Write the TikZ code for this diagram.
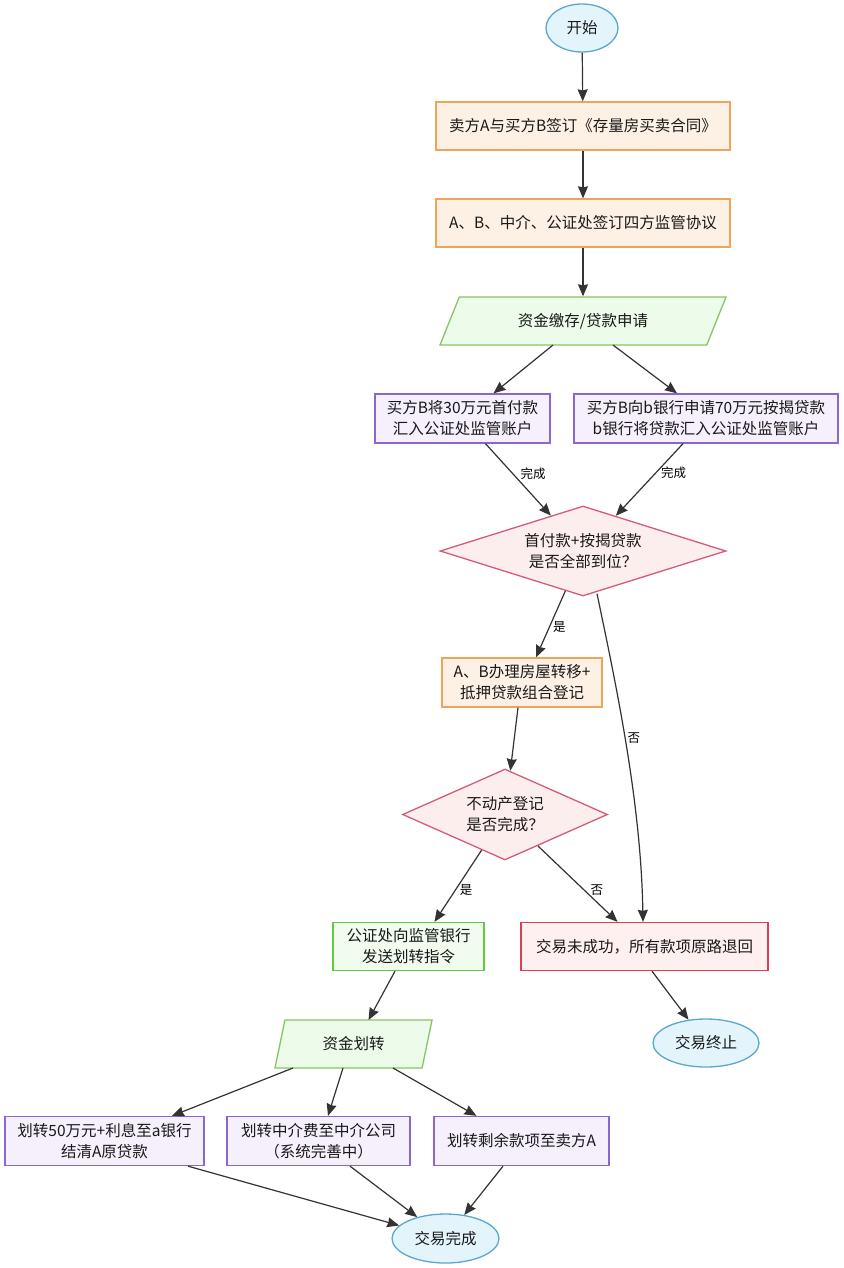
\documentclass[tikz,border=0pt]{standalone}
\usepackage{fontspec}
\setmainfont{Noto Sans CJK SC}
\usetikzlibrary{shapes.geometric,arrows.meta,calc}
\definecolor{termF}{HTML}{E3F4FA}
\definecolor{termD}{HTML}{5BA8CF}
\definecolor{orF}{HTML}{FDF1E6}
\definecolor{orD}{HTML}{F0A458}
\definecolor{grF}{HTML}{EDFBEA}
\definecolor{grD}{HTML}{86C662}
\definecolor{gbF}{HTML}{F1FCEE}
\definecolor{gbD}{HTML}{5ECC3C}
\definecolor{puF}{HTML}{F6EFFC}
\definecolor{puD}{HTML}{8B66D1}
\definecolor{diF}{HTML}{FCEEEC}
\definecolor{diD}{HTML}{D45C7A}
\definecolor{faF}{HTML}{FDF0EF}
\definecolor{faD}{HTML}{DA4150}
\definecolor{arrC}{HTML}{333333}
\begin{document}
\begin{tikzpicture}[x=1pt,y=-1pt,
  base/.style={draw, line width=1.3pt, inner sep=0pt, align=center,
    font=\fontsize{15.5}{21}\selectfont, text=black!90},
  term/.style={base, ellipse, draw=termD, fill=termF},
  orbox/.style={base, rectangle, draw=orD, fill=orF, minimum height=48pt},
  pubox/.style={base, rectangle, draw=puD, fill=puF, minimum height=49pt},
  grbox/.style={base, rectangle, draw=gbD, fill=gbF, minimum height=48pt},
  fabox/.style={base, rectangle, draw=faD, fill=faF, minimum height=48pt},
  para/.style={base, trapezium, draw=grD, fill=grF, trapezium stretches body, minimum height=48pt},
  decide/.style={base, diamond, draw=diD, fill=diF},
  arr/.style={draw=arrC, line width=1.2pt, -{Stealth[length=12pt,width=10pt,inset=1pt]}},
  lbl/.style={font=\fontsize{12.5}{12.5}\selectfont, inner sep=0pt, text=black}
]
\useasboundingbox[fill=white] (0,0) rectangle (843,1268);

\node[term, minimum width=72pt, minimum height=48pt] (S) at (582,28) {开始};
\node[orbox, minimum width=294pt] (A1) at (583,126) {卖方A与买方B签订《存量房买卖合同》};
\node[orbox, minimum width=294pt] (A2) at (583,223) {A、B、中介、公证处签订四方监管协议};
\node[para, trapezium left angle=39.6, trapezium right angle=140.4, minimum width=286pt] (P1) at (583,321) {资金缴存/贷款申请};
\node[pubox, minimum width=175pt] (B1) at (462.5,418.5) {买方B将30万元首付款\\汇入公证处监管账户};
\node[pubox, minimum width=264pt] (B2) at (706,418.5) {买方B向b银行申请70万元按揭贷款\\b银行将贷款汇入公证处监管账户};
\node[decide, aspect=3.18, minimum width=286pt, minimum height=90pt] (D1) at (583,551) {首付款+按揭贷款\\是否全部到位？};
\node[orbox, minimum width=160pt, minimum height=49pt] (M) at (522,682.5) {A、B办理房屋转移+\\抵押贷款组合登记};
\node[decide, aspect=2.25, minimum width=205pt, minimum height=91pt] (D2) at (505,814.5) {不动产登记\\是否完成？};
\node[grbox, minimum width=151pt] (G) at (408.5,946.5) {公证处向监管银行\\发送划转指令};
\node[fabox, minimum width=247pt] (F) at (644.5,946.5) {交易未成功，所有款项原路退回};
\node[para, trapezium left angle=55.5, trapezium right angle=124.5, minimum width=157pt] (P2) at (353.5,1044) {资金划转};
\node[term, minimum width=106pt, minimum height=48pt] (T) at (706,1043) {交易终止};
\node[pubox, minimum width=199pt] (C1) at (104.5,1141) {划转50万元+利息至a银行\\结清A原贷款};
\node[pubox, minimum width=183pt] (C2) at (318.5,1141) {划转中介费至中介公司\\（系统完善中）};
\node[pubox, minimum width=175pt] (C3) at (521.5,1141) {划转剩余款项至卖方A};
\node[term, minimum width=107pt, minimum height=49pt] (E) at (445.5,1238.5) {交易完成};

\draw[arr] (S) -- (A1);
\draw[arr] (A1) -- (A2);
\draw[arr] (A2) -- (P1);
\draw[arr] ($(P1.center)+(-30,24)$) -- ($(B1.north)+(31,0)$);
\draw[arr] ($(P1.center)+(30,24)$) -- ($(B2.north)+(-29,0)$);
\draw[arr] ($(B1.south)+(23,0)$) -- node[lbl, pos=0.42, right=7pt] (L1) {完成} (D1);
\draw[arr] ($(B2.south)+(-23,0)$) -- node[lbl, pos=0.41, right=5pt] (L2) {完成} (D1);
\draw[arr] (D1) -- node[lbl, pos=0.54, right=3pt] (L3) {是} ($(M.north)+(14,0)$);
\draw[arr] ($(D1.south)+(14,-3)$) .. controls (615,680) and (641,800) .. node[lbl, pos=0.48, right=2pt] (L4) {否} ($(F.north)+(-1.5,0)$);
\draw[arr] ($(M.south)+(-4,0)$) -- (D2);
\draw[arr] (D2) -- node[lbl, pos=0.56, right=4pt] (L5) {是} ($(G.north)+(26,0)$);
\draw[arr] (D2) -- node[lbl, pos=0.58, right=6pt] (L6) {否} ($(F.north)+(-27,0)$);
\draw[arr] ($(F.south)+(7.5,0)$) -- (T);
\draw[arr] ($(G.south)+(-13.5,0)$) -- ($(P2.center)+(15,-24)$);
\draw[arr] ($(P2.center)+(-60.5,24)$) -- ($(C1.north)+(67.5,0)$);
\draw[arr] ($(P2.center)+(-10.5,24)$) -- ($(C2.north)+(9.5,0)$);
\draw[arr] ($(P2.center)+(39.5,24)$) -- ($(C3.north)+(-45,0)$);
\draw[arr] ($(C1.south)+(83.5,0)$) -- (E);
\draw[arr] ($(C2.south)+(31.5,0)$) -- (E);
\draw[arr] ($(C3.south)+(-18.5,0)$) -- (E);
\end{tikzpicture}
\end{document}
